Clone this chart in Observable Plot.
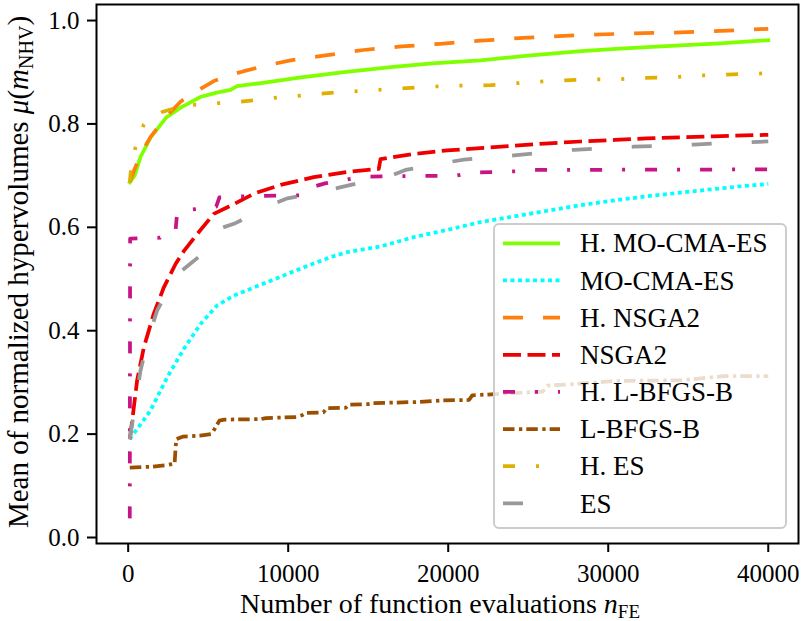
<!DOCTYPE html>
<html>
<head>
<meta charset="utf-8">
<script src="https://cdn.jsdelivr.net/npm/d3@7"></script>
<script src="https://cdn.jsdelivr.net/npm/@observablehq/plot@0.6"></script>
<style>
  html, body { margin: 0; padding: 0; background: white; }
  #chart { width: 803px; height: 621px; }
  #chart svg text, #chart svg tspan { font-family: 'Liberation Serif', 'Times New Roman', serif !important; }
</style>
</head>
<body>
<div id="chart"></div>
<script>
// Mean normalized hypervolume vs. number of function evaluations

const seriesNames = ["H. MO-CMA-ES", "MO-CMA-ES", "H. NSGA2", "NSGA2",
                     "H. L-BFGS-B", "L-BFGS-B", "H. ES", "ES"];

const xTicks = [0, 10000, 20000, 30000, 40000];
const yTicks = [0.0, 0.2, 0.4, 0.6, 0.8, 1.0];

const hMoCmaEsX = [100, 400, 770, 1400, 2400, 3300, 4500, 5600, 6400, 6800, 8300, 10800, 13500, 16400, 19000, 22000, 25000, 28300, 31000, 34500, 37000, 40000];
const hMoCmaEsY = [0.687, 0.700, 0.736, 0.774, 0.813, 0.832, 0.852, 0.861, 0.866, 0.873, 0.879, 0.890, 0.900, 0.910, 0.917, 0.923, 0.932, 0.941, 0.946, 0.952, 0.956, 0.962];

const moCmaEsX = [100, 250, 800, 1400, 2440, 3480, 4520, 5560, 6600, 8690, 10770, 12700, 13700, 15770, 17850, 19940, 22000, 24100, 26200, 28300, 30400, 32400, 34500, 36600, 38500, 40000];
const moCmaEsY = [0.190, 0.197, 0.220, 0.246, 0.310, 0.365, 0.413, 0.449, 0.468, 0.494, 0.520, 0.543, 0.552, 0.563, 0.581, 0.595, 0.610, 0.621, 0.632, 0.643, 0.652, 0.660, 0.667, 0.674, 0.680, 0.684];

const hNsga2X = [100, 300, 700, 1080, 1400, 2020, 2500, 3270, 4000, 4520, 5350, 6200, 7230, 8500, 10140, 12200, 14700, 17100, 19500, 22000, 25000, 28300, 31500, 34500, 37000, 40000];
const hNsga2Y = [0.687, 0.705, 0.735, 0.758, 0.775, 0.800, 0.818, 0.843, 0.858, 0.868, 0.883, 0.893, 0.902, 0.912, 0.923, 0.932, 0.943, 0.950, 0.955, 0.961, 0.967, 0.972, 0.975, 0.977, 0.980, 0.984];

const nsga2X = [100, 250, 560, 980, 1600, 2230, 2960, 3500, 4310, 5350, 6600, 7850, 9520, 10770, 11600, 13700, 15660, 15770, 17850, 19940, 22000, 24100, 26000, 28270, 30400, 32400, 34500, 36600, 40000];
const nsga2Y = [0.190, 0.226, 0.304, 0.368, 0.433, 0.484, 0.529, 0.555, 0.587, 0.626, 0.645, 0.665, 0.682, 0.691, 0.697, 0.707, 0.713, 0.732, 0.742, 0.749, 0.753, 0.758, 0.762, 0.766, 0.769, 0.772, 0.774, 0.776, 0.779];

const hLbfgsbX = [100, 120, 2000, 2200, 2950, 3050, 3300, 5500, 5700, 7200, 10700, 11300, 12300, 13600, 14800, 20500, 21500, 24000, 25500, 40000];
const hLbfgsbY = [0.037, 0.578, 0.580, 0.586, 0.590, 0.625, 0.632, 0.640, 0.658, 0.660, 0.662, 0.676, 0.685, 0.692, 0.698, 0.700, 0.706, 0.708, 0.711, 0.712];

const lbfgsbX = [100, 1500, 2400, 2900, 3000, 3400, 4500, 5200, 5400, 5700, 6000, 8300, 8600, 10500, 10900, 11100, 12200, 12400, 13600, 13800, 15000, 15300, 18000, 19500, 21300, 21500, 24500, 25900, 26200, 28000, 30500, 34500, 35500, 37200, 40000];
const lbfgsbY = [0.135, 0.137, 0.140, 0.143, 0.190, 0.195, 0.197, 0.200, 0.210, 0.226, 0.228, 0.229, 0.231, 0.233, 0.237, 0.241, 0.242, 0.250, 0.251, 0.257, 0.258, 0.260, 0.262, 0.265, 0.266, 0.275, 0.280, 0.282, 0.294, 0.297, 0.303, 0.304, 0.307, 0.312, 0.312];

const hEsX = [100, 200, 460, 980, 1500, 2120, 2750, 4060, 5560, 7020, 9000, 10460, 13000, 16800, 18900, 20470, 22650, 23900, 25350, 27000, 28900, 30400, 32300, 33800, 35300, 37800, 40000];
const hEsY = [0.687, 0.720, 0.755, 0.799, 0.812, 0.823, 0.829, 0.837, 0.840, 0.843, 0.850, 0.854, 0.861, 0.868, 0.872, 0.874, 0.875, 0.878, 0.881, 0.884, 0.886, 0.886, 0.889, 0.890, 0.893, 0.896, 0.898];

const esX = [100, 300, 770, 1300, 1810, 2500, 3300, 3900, 4500, 5000, 5660, 6700, 8000, 9100, 9960, 11500, 12640, 13780, 15000, 16180, 17330, 18500, 19830, 20970, 22500, 24100, 26000, 27850, 29700, 31600, 33500, 35350, 37200, 39000, 40000];
const esY = [0.190, 0.230, 0.323, 0.390, 0.439, 0.480, 0.515, 0.530, 0.545, 0.570, 0.597, 0.608, 0.628, 0.646, 0.656, 0.665, 0.673, 0.681, 0.690, 0.697, 0.711, 0.717, 0.725, 0.731, 0.735, 0.739, 0.745, 0.750, 0.753, 0.756, 0.758, 0.760, 0.763, 0.765, 0.766];

const seriesX = [hMoCmaEsX, moCmaEsX, hNsga2X, nsga2X, hLbfgsbX, lbfgsbX, hEsX, esX];
const seriesY = [hMoCmaEsY, moCmaEsY, hNsga2Y, nsga2Y, hLbfgsbY, lbfgsbY, hEsY, esY];

// line styles, in drawing order
const styles = [
  {stroke: "#7fff00", dash: null},
  {stroke: "#00ffff", dash: "4,3.5"},
  {stroke: "#ff7f0e", dash: "20,20"},
  {stroke: "#ee0000", dash: "18,6.5"},
  {stroke: "#c71585", dash: "12,20,3,20"},
  {stroke: "#9a5000", dash: "11.5,4.5,3.3,4"},
  {stroke: "#e0b000", dash: "12,21,3,21,3,21"},
  {stroke: "#999999", dash: "20,40"}
];

const lineWidth = 3.75;

const tables = seriesNames.map((name, i) =>
  seriesX[i].map((x, j) => ({name, x, y: seriesY[i][j]}))
);

const lineMarks = tables.map((data, i) =>
  Plot.line(data, {
    x: "x", y: "y",
    stroke: styles[i].stroke,
    strokeWidth: lineWidth,
    strokeDasharray: styles[i].dash ?? undefined,
    strokeLinecap: styles[i].dash ? "butt" : "square",
    strokeLinejoin: "round"
  })
);

const fontFamily = "'Liberation Serif', 'Times New Roman', serif";

const plot = Plot.plot({
  width: 803,
  height: 621,
  marginLeft: 96,
  marginRight: 5,
  marginTop: 4,
  marginBottom: 78,
  style: {fontFamily, fontSize: "25px", background: "white", color: "black"},
  x: {domain: [-1980, 41890], label: null},
  y: {domain: [-0.0116, 1.031], label: null},
  marks: [
    ...lineMarks,
    Plot.frame({stroke: "black", strokeWidth: 2}),
    Plot.axisX({ticks: xTicks, tickFormat: d => String(d), tickSize: 9, tickPadding: 12, strokeWidth: 2, fontSize: 25}),
    Plot.axisY({ticks: yTicks, tickFormat: d3.format(".1f"), tickSize: 9, tickPadding: 8, strokeWidth: 2, fontSize: 25})
  ]
});

document.getElementById("chart").appendChild(plot);

const svg = d3.select(plot);

// axis titles with math-style subscripts
const xTitle = svg.append("text")
  .attr("x", 440).attr("y", 613)
  .attr("text-anchor", "middle")
  .attr("font-family", fontFamily)
  .attr("font-size", 28)
  .attr("fill", "black");
xTitle.append("tspan").text("Number of function evaluations ");
xTitle.append("tspan").attr("font-style", "italic").text("n");
xTitle.append("tspan").attr("font-size", 19).attr("dy", 5).text("FE");

const yTitle = svg.append("text")
  .attr("transform", "translate(28,272) rotate(-90)")
  .attr("text-anchor", "middle")
  .attr("font-family", fontFamily)
  .attr("font-size", 29)
  .attr("fill", "black");
yTitle.append("tspan").text("Mean of normalized hypervolumes ");
yTitle.append("tspan").attr("font-style", "italic").text("μ");
yTitle.append("tspan").text("(");
yTitle.append("tspan").attr("font-style", "italic").text("m");
yTitle.append("tspan").attr("font-size", 20).attr("dy", 5).text("NHV");
yTitle.append("tspan").attr("dy", -5).text(")");

// legend box
const legend = svg.append("g").attr("text-anchor", "start");
legend.append("rect")
  .attr("x", 494).attr("y", 224)
  .attr("width", 292).attr("height", 304)
  .attr("rx", 5).attr("ry", 5)
  .attr("fill", "white").attr("fill-opacity", 0.8)
  .attr("stroke", "#cccccc").attr("stroke-width", 2);

seriesNames.forEach((name, i) => {
  const cy = 243.3 + i * 37.15;
  legend.append("line")
    .attr("x1", 503).attr("x2", 560)
    .attr("y1", cy).attr("y2", cy)
    .attr("stroke", styles[i].stroke)
    .attr("stroke-width", lineWidth)
    .attr("stroke-dasharray", styles[i].dash)
    .attr("stroke-linecap", "butt");
  legend.append("text")
    .attr("x", 580).attr("y", cy)
    .attr("dy", "0.34em")
    .attr("text-anchor", "start")
    .attr("font-family", fontFamily)
    .attr("font-size", 27)
    .attr("fill", "black")
    .text(name);
});
</script>
</body>
</html>
